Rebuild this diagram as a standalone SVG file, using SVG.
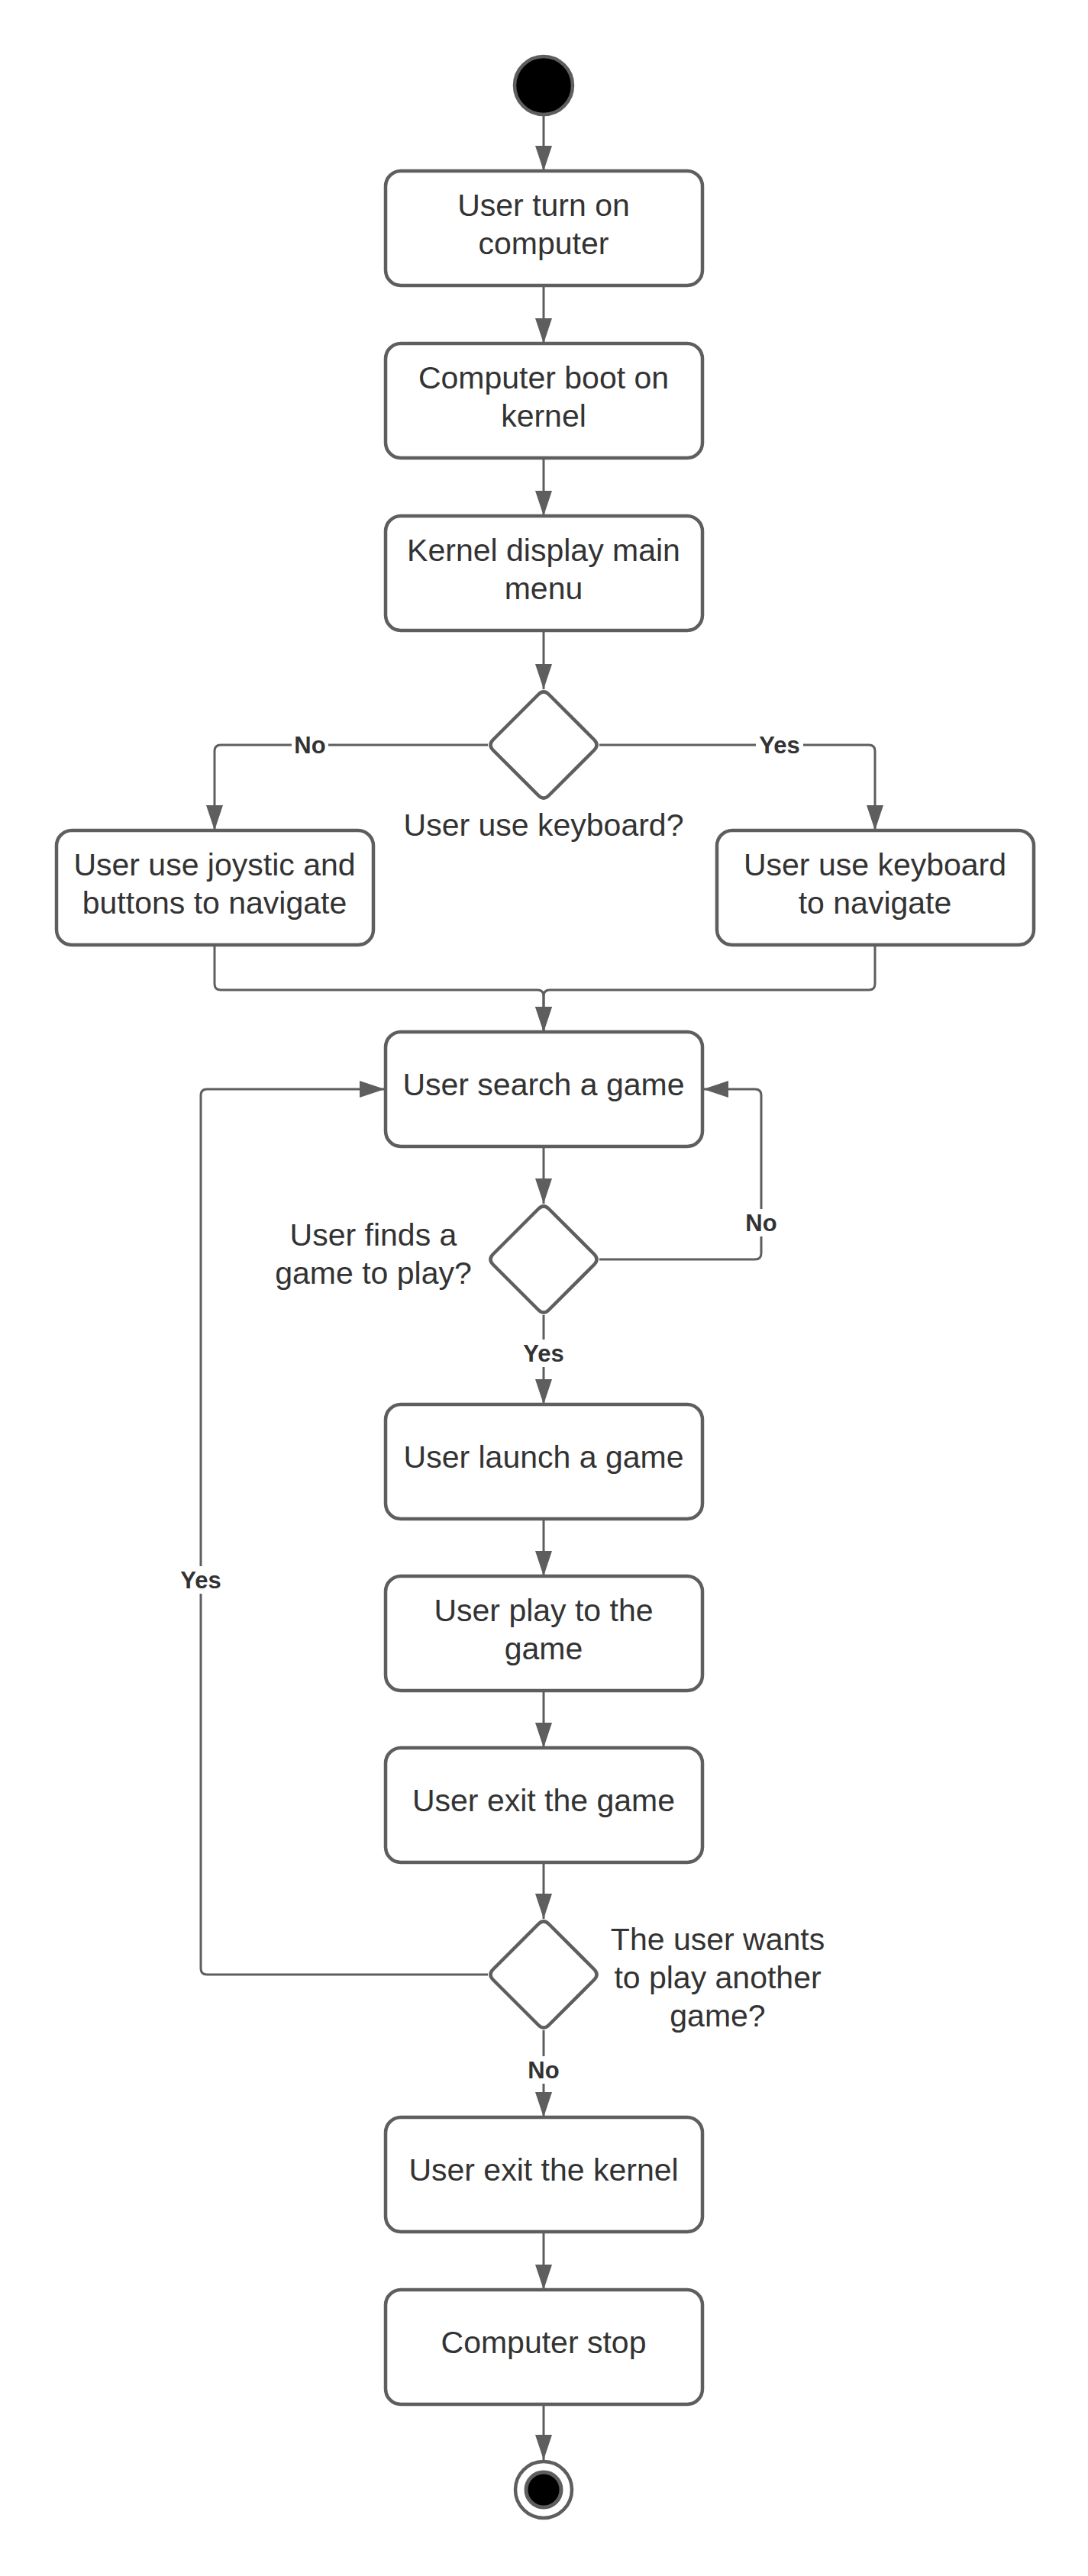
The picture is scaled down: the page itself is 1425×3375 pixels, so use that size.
<svg xmlns="http://www.w3.org/2000/svg" width="1425" height="3375" viewBox="0 0 1425 3375">
<defs>
<style>
.box{fill:#ffffff;stroke:#5e5e5e;stroke-width:4.5}
.dia{fill:#ffffff;stroke:#5e5e5e;stroke-width:4.5}
.t{font-family:"Liberation Sans",Arial,sans-serif;font-size:41px;fill:#333333;text-anchor:middle}
.lbl{font-family:"Liberation Sans",Arial,sans-serif;font-size:31px;font-weight:bold;fill:#333333;text-anchor:middle}
.bg{fill:#ffffff}
.c{fill:none;stroke:#5e5e5e;stroke-width:3}
.a{marker-end:url(#arr)}
</style>
<marker id="arr" markerUnits="userSpaceOnUse" markerWidth="34" markerHeight="24" refX="33" refY="12" orient="auto" viewBox="0 0 34 24">
<path d="M0,1 L33,12 L0,23 Z" fill="#5e5e5e"/>
</marker>
<path id="dmd" d="M -7,-66 Q 0,-73 7,-66 L 66,-7 Q 73,0 66,7 L 7,66 Q 0,73 -7,66 L -66,7 Q -73,0 -66,-7 Z"/>
</defs>
<rect width="1425" height="3375" fill="#ffffff"/>

<g id="connectors">
<path class="c a" d="M712,150 L712,224"/>
<path class="c a" d="M712,374 L712,450"/>
<path class="c a" d="M712,600 L712,676"/>
<path class="c a" d="M712,826 L712,903"/>
<path class="c a" d="M639,976 L289,976 Q281,976 281,984 L281,1088"/>
<path class="c a" d="M785,976 L1138,976 Q1146,976 1146,984 L1146,1088"/>
<path class="c a" d="M281,1238 L281,1289 Q281,1297 289,1297 L704,1297 Q712,1297 712,1305 L712,1352"/>
<path class="c a" d="M1146,1238 L1146,1289 Q1146,1297 1138,1297 L720,1297 Q712,1297 712,1305 L712,1352"/>
<path class="c a" d="M712,1502 L712,1577"/>
<path class="c a" d="M785,1650 L989,1650 Q997,1650 997,1642 L997,1435 Q997,1427 989,1427 L921,1427"/>
<path class="c a" d="M712,1723 L712,1840"/>
<path class="c a" d="M712,1990 L712,2065"/>
<path class="c a" d="M712,2215 L712,2290"/>
<path class="c a" d="M712,2440 L712,2514"/>
<path class="c a" d="M639,2587 L271,2587 Q263,2587 263,2579 L263,1435 Q263,1427 271,1427 L504,1427"/>
<path class="c a" d="M712,2660 L712,2774"/>
<path class="c a" d="M712,2924 L712,3000"/>
<path class="c a" d="M712,3150 L712,3223"/>
<rect class="bg" x="382" y="958" width="48" height="36"/>
<text class="lbl" x="406" y="987">No</text>
<rect class="bg" x="990" y="958" width="62" height="36"/>
<text class="lbl" x="1021" y="987">Yes</text>
<rect class="bg" x="973" y="1584" width="48" height="36"/>
<text class="lbl" x="997" y="1613">No</text>
<rect class="bg" x="681" y="1755" width="62" height="36"/>
<text class="lbl" x="712" y="1784">Yes</text>
<rect class="bg" x="232" y="2052" width="62" height="36"/>
<text class="lbl" x="263" y="2081">Yes</text>
<rect class="bg" x="688" y="2694" width="48" height="36"/>
<text class="lbl" x="712" y="2723">No</text>
</g>

<g id="start">
<circle cx="712" cy="112" r="38" fill="#000000" stroke="#5e5e5e" stroke-width="4.5"/>
</g>
<g id="n1">
<rect class="box" x="505" y="224" width="415" height="150" rx="20"/>
<text class="t" x="712" y="283">User turn on</text>
<text class="t" x="712" y="333">computer</text>
</g>
<g id="n2">
<rect class="box" x="505" y="450" width="415" height="150" rx="20"/>
<text class="t" x="712" y="509">Computer boot on</text>
<text class="t" x="712" y="559">kernel</text>
</g>
<g id="n3">
<rect class="box" x="505" y="676" width="415" height="150" rx="20"/>
<text class="t" x="712" y="735">Kernel display main</text>
<text class="t" x="712" y="785">menu</text>
</g>
<g id="d1">
<use href="#dmd" class="dia" transform="translate(712,976)"/>
<text class="t" x="712" y="1095">User use keyboard?</text>
</g>
<g id="nLeft">
<rect class="box" x="74" y="1088" width="415" height="150" rx="20"/>
<text class="t" x="281" y="1147">User use joystic and</text>
<text class="t" x="281" y="1197">buttons to navigate</text>
</g>
<g id="nRight">
<rect class="box" x="939" y="1088" width="415" height="150" rx="20"/>
<text class="t" x="1146" y="1147">User use keyboard</text>
<text class="t" x="1146" y="1197">to navigate</text>
</g>
<g id="nSearch">
<rect class="box" x="505" y="1352" width="415" height="150" rx="20"/>
<text class="t" x="712" y="1435">User search a game</text>
</g>
<g id="d2">
<use href="#dmd" class="dia" transform="translate(712,1650)"/>
<text class="t" x="489" y="1632">User finds a</text>
<text class="t" x="489" y="1682">game to play?</text>
</g>
<g id="nLaunch">
<rect class="box" x="505" y="1840" width="415" height="150" rx="20"/>
<text class="t" x="712" y="1923">User launch a game</text>
</g>
<g id="nPlay">
<rect class="box" x="505" y="2065" width="415" height="150" rx="20"/>
<text class="t" x="712" y="2124">User play to the</text>
<text class="t" x="712" y="2174">game</text>
</g>
<g id="nExitGame">
<rect class="box" x="505" y="2290" width="415" height="150" rx="20"/>
<text class="t" x="712" y="2373">User exit the game</text>
</g>
<g id="d3">
<use href="#dmd" class="dia" transform="translate(712,2587)"/>
<text class="t" x="940" y="2555">The user wants</text>
<text class="t" x="940" y="2605">to play another</text>
<text class="t" x="940" y="2655">game?</text>
</g>
<g id="nExitKernel">
<rect class="box" x="505" y="2774" width="415" height="150" rx="20"/>
<text class="t" x="712" y="2857">User exit the kernel</text>
</g>
<g id="nStop">
<rect class="box" x="505" y="3000" width="415" height="150" rx="20"/>
<text class="t" x="712" y="3083">Computer stop</text>
</g>
<g id="end">
<circle cx="712" cy="3262" r="37" fill="#ffffff" stroke="#5e5e5e" stroke-width="4.5"/>
<circle cx="712" cy="3262" r="23" fill="#000000" stroke="#5e5e5e" stroke-width="5"/>
</g>
</svg>
